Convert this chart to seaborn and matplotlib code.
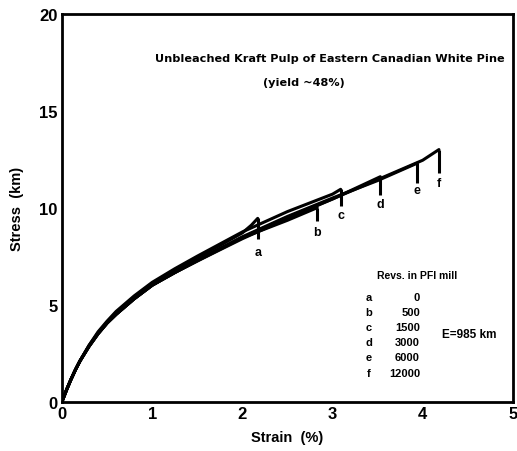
import matplotlib
matplotlib.use("Agg")
import matplotlib.pyplot as plt
import seaborn as sns
import pandas as pd

# ---- data ----
curve_ids = ["a", "b", "c", "d", "e", "f"]
revs = ["0", "500", "1500", "3000", "6000", "12000"]

strain_a = [0, 0.05, 0.1, 0.15, 0.2, 0.3, 0.4, 0.5, 0.6, 0.8, 1.0, 1.25, 1.5, 1.75, 2.0, 2.1, 2.17]
stress_a = [0, 0.6, 1.15, 1.65, 2.1, 2.9, 3.55, 4.1, 4.6, 5.4, 6.1, 6.8, 7.45, 8.05, 8.7, 9.1, 9.45]
strain_b = [0, 0.05, 0.1, 0.15, 0.2, 0.3, 0.4, 0.5, 0.6, 0.8, 1.0, 1.25, 1.5, 2.0, 2.5, 2.83]
stress_b = [0, 0.6, 1.15, 1.65, 2.1, 2.85, 3.5, 4.05, 4.5, 5.3, 6.0, 6.7, 7.3, 8.45, 9.35, 10.0]
strain_c = [0, 0.05, 0.1, 0.15, 0.2, 0.3, 0.4, 0.5, 0.6, 0.8, 1.0, 1.25, 1.5, 2.0, 2.5, 3.0, 3.09]
stress_c = [0, 0.6, 1.15, 1.65, 2.1, 2.9, 3.6, 4.15, 4.65, 5.45, 6.15, 6.85, 7.5, 8.75, 9.8, 10.7, 10.95]
strain_d = [0, 0.05, 0.1, 0.15, 0.2, 0.3, 0.4, 0.5, 0.6, 0.8, 1.0, 1.25, 1.5, 2.0, 2.5, 3.0, 3.53]
stress_d = [0, 0.6, 1.15, 1.65, 2.1, 2.85, 3.5, 4.05, 4.5, 5.3, 6.0, 6.65, 7.25, 8.4, 9.45, 10.45, 11.6]
strain_e = [0, 0.05, 0.1, 0.15, 0.2, 0.3, 0.4, 0.5, 0.6, 0.8, 1.0, 1.25, 1.5, 2.0, 2.5, 3.0, 3.5, 3.94]
stress_e = [0, 0.6, 1.15, 1.65, 2.1, 2.85, 3.5, 4.05, 4.5, 5.3, 6.0, 6.65, 7.3, 8.5, 9.55, 10.5, 11.4, 12.3]
strain_f = [0, 0.05, 0.1, 0.15, 0.2, 0.3, 0.4, 0.5, 0.6, 0.8, 1.0, 1.25, 1.5, 2.0, 2.5, 3.0, 3.5, 4.0, 4.18]
stress_f = [0, 0.6, 1.15, 1.65, 2.1, 2.85, 3.5, 4.05, 4.5, 5.3, 6.0, 6.65, 7.25, 8.45, 9.5, 10.45, 11.45, 12.45, 13.0]

# failure drop lines: strain at break, top stress, bottom of drop line
break_strain = [2.17, 2.83, 3.09, 3.53, 3.94, 4.18]
break_top = [9.45, 10.0, 10.95, 11.6, 12.3, 13.0]
break_bottom = [8.4, 9.3, 10.1, 10.65, 11.3, 11.8]
label_y = [7.7, 8.75, 9.6, 10.2, 10.9, 11.3]

title_lines = ["Unbleached Kraft Pulp of Eastern Canadian White Pine", "(yield ~48%)"]
legend_title = "Revs. in PFI mill"
modulus_text = "E=985 km"
x_ticks = [0, 1, 2, 3, 4, 5]
y_ticks = [0, 5, 10, 15, 20]

strains = [strain_a, strain_b, strain_c, strain_d, strain_e, strain_f]
stresses = [stress_a, stress_b, stress_c, stress_d, stress_e, stress_f]
rows = []
for cid, xs, ys in zip(curve_ids, strains, stresses):
    for x, y in zip(xs, ys):
        rows.append({"curve": cid, "strain": x, "stress": y})
df = pd.DataFrame(rows)

# ---- plot ----
sns.set_style("white")
plt.rcParams["font.family"] = ["Liberation Sans", "DejaVu Sans"]
plt.rcParams["text.color"] = "black"
plt.rcParams["axes.labelcolor"] = "black"
plt.rcParams["xtick.color"] = "black"
plt.rcParams["ytick.color"] = "black"

fig = plt.figure(figsize=(5.17, 4.52), dpi=100)
ax = fig.add_axes([0.12, 0.1095, 0.872, 0.8575])

sns.lineplot(data=df, x="strain", y="stress", units="curve", estimator=None,
             sort=False, color="black", lw=2.2, ax=ax, legend=False)
ax.vlines(break_strain, break_bottom, break_top, colors="black", lw=2.2)

for cid, x, y in zip(curve_ids, break_strain, label_y):
    ax.text(x, y, cid, ha="center", va="center", fontsize=9, fontweight="bold")

ax.text(2.97, 17.7, title_lines[0], ha="center", va="center", fontsize=8.1,
        fontweight="bold", family="DejaVu Sans")
ax.text(2.68, 16.5, title_lines[1], ha="center", va="center", fontsize=8.1,
        fontweight="bold", family="DejaVu Sans")

ax.text(3.94, 6.54, legend_title, ha="center", va="center", fontsize=7.5, fontweight="bold")
leg_y = [5.41, 4.64, 3.87, 3.05, 2.28, 1.46]
for cid, rv, y in zip(curve_ids, revs, leg_y):
    ax.text(3.40, y, cid, ha="center", va="center", fontsize=8, fontweight="bold")
    ax.text(3.97, y, rv, ha="right", va="center", fontsize=8, fontweight="bold")
ax.text(4.52, 3.46, modulus_text, ha="center", va="center", fontsize=8.5, fontweight="bold")

ax.set_xlim(0, 5)
ax.set_ylim(0, 20)
ax.set_xticks(x_ticks)
ax.set_yticks(y_ticks)
ax.set_xticklabels([str(t) for t in x_ticks], fontsize=12, fontweight="bold")
ax.set_yticklabels([str(t) for t in y_ticks], fontsize=12, fontweight="bold")
ax.tick_params(direction="in", length=7, width=1.6, colors="black", pad=3)
ax.set_xlabel("Strain  (%)", fontsize=10.5, fontweight="bold", labelpad=7)
ax.set_ylabel("Stress  (km)", fontsize=10.5, fontweight="bold", labelpad=11)
for sp in ax.spines.values():
    sp.set_visible(True)
    sp.set_color("black")
    sp.set_linewidth(2.0)

fig.savefig("out.png", dpi=100, facecolor="white")
